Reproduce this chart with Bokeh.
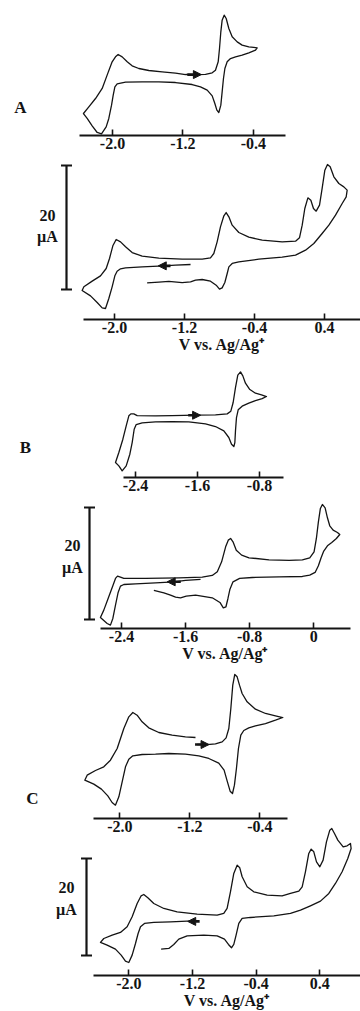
from bokeh.plotting import figure
from bokeh.models import (Range1d, LinearAxis, FixedTicker, CustomJSTickFormatter,
                          Arrow, NormalHead)
from bokeh.core.properties import value
from bokeh.embed import file_html
from bokeh.resources import INLINE

# ---------------- data (V vs. Ag/Ag+, current in uA) ----------------
a_top_v = [-1.170, -1.057, -0.943, -0.867, -0.830, -0.799, -0.784, -0.769, -0.754, -0.731,
           -0.708, -0.678, -0.640, -0.583, -0.527, -0.451, -0.356, -0.375, -0.451, -0.527,
           -0.602, -0.659, -0.697, -0.723, -0.739, -0.754, -0.769, -0.792, -0.814, -0.837,
           -0.867, -0.924, -1.000, -1.095, -1.284, -1.473, -1.663, -1.852, -1.947, -1.973,
           -1.992, -2.011, -2.042, -2.072, -2.125, -2.174, -2.231, -2.288, -2.330, -2.269,
           -2.193, -2.117, -2.061, -2.004, -1.966, -1.936, -1.890, -1.833, -1.777, -1.701,
           -1.587, -1.436, -1.284, -1.170]
a_top_i = [0.48, 0.45, 0.50, 0.75, 1.18, 2.53, 4.68, 7.37, 9.25, 10.05,
           9.52, 7.90, 6.56, 5.75, 5.22, 4.95, 4.78, 4.41, 3.98, 3.60,
           3.33, 3.06, 2.53, 1.45, -0.16, -2.31, -4.46, -5.65, -5.27, -4.19,
           -2.96, -2.04, -1.51, -1.13, -0.81, -0.70, -0.70, -0.75, -1.02, -1.51,
           -2.85, -4.46, -6.61, -7.96, -9.09, -8.87, -7.80, -6.61, -5.81, -4.73,
           -3.39, -1.77, 0.38, 2.53, 3.33, 3.71, 3.33, 2.53, 1.88, 1.45,
           1.13, 0.91, 0.70, 0.48]

a_bot_v = [-1.131, -1.303, -1.436, -1.684, -1.874, -1.931, -1.970, -1.996, -2.027, -2.065,
           -2.103, -2.141, -2.198, -2.274, -2.370, -2.350, -2.255, -2.160, -2.095, -2.057,
           -2.019, -1.981, -1.931, -1.874, -1.798, -1.684, -1.493, -1.227, -0.998, -0.903,
           -0.865, -0.827, -0.789, -0.750, -0.724, -0.693, -0.655, -0.579, -0.465, -0.312,
           -0.084, 0.069, 0.114, 0.145, 0.175, 0.210, 0.244, 0.274, 0.305, 0.343,
           0.373, 0.404, 0.434, 0.465, 0.507, 0.564, 0.621, 0.659, 0.648, 0.602,
           0.526, 0.450, 0.373, 0.278, 0.183, 0.069, -0.084, -0.350, -0.579, -0.655,
           -0.693, -0.712, -0.739, -0.770, -0.800, -0.838, -0.903, -0.998, -1.074, -1.131,
           -1.227, -1.379, -1.493, -1.627]
a_bot_i = [-0.32, -0.43, -0.54, -0.70, -0.86, -1.02, -1.40, -2.15, -3.92, -5.81,
           -7.42, -7.31, -6.45, -5.38, -4.52, -3.92, -3.01, -2.15, -0.97, 0.65,
           2.69, 3.71, 3.33, 2.53, 1.61, 1.02, 0.70, 0.54, 0.54, 0.75,
           1.45, 3.33, 5.75, 7.53, 8.06, 7.37, 6.02, 4.84, 4.09, 3.60,
           3.33, 3.44, 3.98, 6.02, 8.71, 10.43, 10.05, 8.71, 8.28, 9.25,
           11.94, 14.89, 15.81, 15.43, 13.82, 12.74, 12.20, 11.67, 10.59, 9.52,
           7.63, 6.02, 4.68, 3.06, 1.99, 1.18, 0.86, 0.54, 0.11, -0.16,
           -0.70, -1.77, -3.23, -4.09, -4.30, -3.66, -3.01, -2.74, -2.85, -3.12,
           -3.23, -3.06, -3.17, -3.28]

b_top_v = [-2.142, -1.927, -1.626, -1.368, -1.217, -1.170, -1.140, -1.110, -1.080, -1.045,
           -1.015, -0.981, -0.929, -0.852, -0.774, -0.710, -0.766, -0.852, -0.938, -1.024,
           -1.075, -1.097, -1.110, -1.118, -1.131, -1.161, -1.196, -1.260, -1.368, -1.497,
           -1.712, -1.927, -2.142, -2.314, -2.391, -2.417, -2.443, -2.473, -2.520, -2.572,
           -2.615, -2.658, -2.615, -2.563, -2.520, -2.486, -2.460, -2.422, -2.378, -2.142]
b_top_i = [0.60, 0.65, 0.71, 0.77, 0.95, 1.43, 2.98, 5.65, 7.86, 8.45,
           7.74, 6.43, 5.36, 4.64, 4.35, 4.05, 3.69, 3.33, 2.86, 2.32,
           1.67, 0.30, -2.08, -4.17, -4.88, -4.46, -3.27, -2.08, -1.31, -0.83,
           -0.48, -0.42, -0.48, -0.65, -0.95, -1.79, -4.17, -6.25, -8.33, -9.23,
           -8.33, -7.74, -5.95, -3.57, -1.19, 0.60, 0.95, 0.95, 0.65, 0.60]

b_bot_v = [-1.413, -1.600, -1.746, -1.975, -2.225, -2.371, -2.413, -2.442, -2.475, -2.508,
           -2.538, -2.579, -2.663, -2.621, -2.567, -2.508, -2.475, -2.450, -2.413, -2.371,
           -2.100, -1.683, -1.392, -1.267, -1.204, -1.150, -1.100, -1.067, -1.038, -1.008,
           -0.967, -0.900, -0.808, -0.558, -0.308, -0.142, -0.050, 0.004, 0.033, 0.058,
           0.083, 0.108, 0.142, 0.171, 0.200, 0.242, 0.296, 0.325, 0.283, 0.225,
           0.171, 0.125, 0.092, 0.058, 0.017, -0.050, -0.142, -0.433, -0.767, -0.925,
           -1.008, -1.046, -1.071, -1.096, -1.129, -1.171, -1.267, -1.475, -1.592, -1.663,
           -1.725, -1.788, -1.871, -1.996]
b_bot_i = [0.42, 0.24, 0.00, -0.18, -0.36, -0.48, -0.77, -1.90, -4.17, -6.55,
           -7.74, -7.44, -6.37, -5.06, -2.98, -0.71, 0.60, 1.01, 0.83, 0.60,
           0.60, 0.71, 0.83, 1.13, 1.79, 3.57, 6.25, 7.44, 7.74, 7.14,
           5.65, 4.76, 4.29, 3.93, 3.81, 3.93, 4.29, 5.36, 7.74, 10.71,
           13.10, 13.81, 13.21, 11.43, 10.00, 9.23, 8.81, 8.45, 7.74, 7.02,
           6.43, 5.48, 4.29, 2.86, 1.67, 1.19, 0.95, 0.89, 0.77, 0.60,
           0.00, -1.31, -2.98, -4.46, -4.64, -3.69, -2.86, -2.38, -2.56, -2.86,
           -2.74, -2.38, -1.96, -1.55]

c_top_v = [-1.116, -1.002, -0.907, -0.830, -0.785, -0.754, -0.731, -0.709, -0.686, -0.659,
           -0.632, -0.602, -0.545, -0.450, -0.335, -0.221, -0.137, -0.221, -0.335, -0.450,
           -0.526, -0.583, -0.617, -0.644, -0.667, -0.690, -0.712, -0.739, -0.770, -0.808,
           -0.869, -0.983, -1.097, -1.250, -1.440, -1.592, -1.745, -1.851, -1.897, -1.935,
           -1.973, -2.011, -2.050, -2.088, -2.137, -2.210, -2.297, -2.400, -2.373, -2.278,
           -2.183, -2.107, -2.030, -1.954, -1.897, -1.851, -1.802, -1.745, -1.669, -1.554,
           -1.402, -1.250, -1.135]
c_top_i = [0.82, 0.82, 0.96, 1.37, 2.20, 4.12, 8.25, 13.06, 15.26, 14.78,
           13.06, 11.34, 9.62, 8.11, 7.22, 6.74, 6.39, 5.84, 5.15, 4.67,
           4.26, 3.71, 2.75, 0.00, -4.12, -7.56, -9.28, -8.80, -6.87, -4.47,
           -3.02, -2.06, -1.51, -1.17, -1.03, -1.17, -1.24, -1.51, -2.20, -3.78,
           -6.87, -9.97, -11.68, -11.13, -9.76, -8.38, -7.35, -6.53, -5.50, -4.54,
           -3.78, -2.41, 0.00, 4.12, 6.53, 7.42, 6.87, 5.50, 4.26, 3.30,
           2.75, 2.41, 2.27]

c_bot_v = [-1.121, -1.267, -1.477, -1.686, -1.803, -1.853, -1.883, -1.916, -1.958, -2.000,
           -2.042, -2.096, -2.168, -2.272, -2.356, -2.314, -2.209, -2.105, -2.021, -1.958,
           -1.895, -1.845, -1.812, -1.761, -1.686, -1.560, -1.393, -1.142, -0.890, -0.807,
           -0.765, -0.723, -0.681, -0.639, -0.606, -0.576, -0.513, -0.430, -0.262, -0.074,
           0.031, 0.136, 0.178, 0.219, 0.261, 0.291, 0.324, 0.358, 0.400, 0.441,
           0.483, 0.525, 0.550, 0.584, 0.626, 0.693, 0.743, 0.785, 0.793, 0.751,
           0.680, 0.596, 0.513, 0.408, 0.282, 0.157, 0.031, -0.178, -0.472, -0.576,
           -0.618, -0.652, -0.681, -0.710, -0.748, -0.798, -0.890, -1.058, -1.267, -1.372,
           -1.435, -1.497, -1.594]
c_bot_i = [-0.82, -0.89, -1.03, -1.17, -1.37, -2.06, -3.44, -5.50, -7.90, -9.42,
           -9.14, -7.90, -6.67, -5.84, -5.29, -4.47, -3.78, -3.23, -2.06, 0.00,
           2.75, 4.33, 4.60, 3.92, 2.75, 1.72, 1.03, 0.55, 0.34, 0.69,
           1.72, 5.15, 8.93, 10.65, 10.10, 8.25, 6.19, 5.15, 4.47, 4.33,
           4.81, 5.29, 6.19, 9.28, 13.06, 13.95, 13.40, 11.34, 10.31, 11.68,
           15.46, 17.87, 18.21, 17.18, 15.81, 14.43, 14.64, 15.12, 14.09, 12.03,
           9.28, 6.87, 4.81, 3.23, 2.27, 1.37, 0.69, 0.21, -0.14, -0.34,
           -1.37, -3.78, -5.70, -6.39, -5.70, -4.60, -3.92, -3.78, -3.92, -4.60,
           -5.70, -6.53, -6.67]

# scan-direction arrows: (V start, V end, current)
arrows = {
    "a_top": (-1.15, -0.99, 0.47),
    "a_bot": (-1.36, -1.50, -0.54),
    "b_top": (-1.72, -1.56, 0.71),
    "b_bot": (-1.66, -1.83, 0.00),
    "c_top": (-1.14, -0.98, 0.82),
    "c_bot": (-1.11, -1.26, -0.95),
}

ticks_a_top = [-2.0, -1.2, -0.4]
ticks_a_bot = [-2.0, -1.2, -0.4, 0.4]
ticks_b_top = [-2.4, -1.6, -0.8]
ticks_b_bot = [-2.4, -1.6, -0.8, 0.0]
ticks_c_top = [-2.0, -1.2, -0.4]
ticks_c_bot = [-2.0, -1.2, -0.4, 0.4]

compound_labels = ["A", "B", "C"]
scale_bar_ua = 20
scale_bar_text = ["20", "\u00b5A"]
x_title = "V vs. Ag/Ag\u207a"

# ---------------- layout (page pixels; the page is drawn from its top-left corner) ----------------
W, H = 360, 1011
FL, FT = 0, 0

# name: (x px of ref V, ref V, px per V, y px of 0 uA, px per uA, axis y px, axis x0 px, axis x1 px)
panels = {
    "a_top": (112.0, -2.0, 88.0, 77.0, 6.2, 135, 79, 285),
    "a_bot": (114.0, -2.0, 87.5, 262.0, 6.2, 319, 83, 360),
    "b_top": (135.0, -2.4, 77.5, 418.7, 5.6, 477, 123, 283),
    "b_bot": (121.0, -2.4, 80.1, 581.3, 5.6, 628, 100, 350),
    "c_top": (119.3, -2.0, 87.5, 748.0, 4.85, 818, 93, 287),
    "c_bot": (128.3, -2.0, 79.6, 916.3, 4.85, 975, 93, 360),
}


def to_v(k, px):
    xr, vr, ppv = panels[k][:3]
    return vr + (px - xr) / ppv


def to_i(k, py):
    y0, ppu = panels[k][3:5]
    return (y0 - py) / ppu


FONT = "Liberation Serif"
INK = "#141414"

p = figure(width=W, height=H, output_backend="svg", toolbar_location=None,
           x_axis_location=None, y_axis_location=None,
           x_range=Range1d(FL, FL + W), y_range=Range1d(FT + H, FT),
           min_border=0)
p.grid.visible = False
p.outline_line_color = None
p.background_fill_color = "white"
p.border_fill_color = "white"

for k in panels:
    p.extra_x_ranges[k] = Range1d(to_v(k, FL), to_v(k, FL + W))
    p.extra_y_ranges[k] = Range1d(to_i(k, FT + H), to_i(k, FT))

curves = {
    "a_top": (a_top_v, a_top_i), "a_bot": (a_bot_v, a_bot_i),
    "b_top": (b_top_v, b_top_i), "b_bot": (b_bot_v, b_bot_i),
    "c_top": (c_top_v, c_top_i), "c_bot": (c_bot_v, c_bot_i),
}
ticks = {
    "a_top": ticks_a_top, "a_bot": ticks_a_bot,
    "b_top": ticks_b_top, "b_bot": ticks_b_bot,
    "c_top": ticks_c_top, "c_bot": ticks_c_bot,
}

fmt = CustomJSTickFormatter(code="return Math.abs(tick) < 1e-9 ? '0' : tick.toFixed(1);")

for k, (vs, cs) in curves.items():
    p.line(vs, cs, x_range_name=k, y_range_name=k, line_color=INK, line_width=1.3,
           line_join="round")
    x0, x1, yy = arrows[k]
    p.add_layout(Arrow(end=NormalHead(size=8, fill_color=INK, line_color=INK, line_width=1),
                       x_start=x0, y_start=yy, x_end=x1, y_end=yy,
                       line_color=INK, line_width=2.6,
                       x_range_name=k, y_range_name=k))
    ax_y, ax_x0, ax_x1 = panels[k][5:8]
    ax = LinearAxis(x_range_name=k, y_range_name=k,
                    fixed_location=to_i(k, ax_y),
                    bounds=(to_v(k, ax_x0), to_v(k, ax_x1)),
                    ticker=FixedTicker(ticks=ticks[k], minor_ticks=[]),
                    formatter=fmt,
                    major_tick_in=6, major_tick_out=0,
                    minor_tick_in=0, minor_tick_out=0,
                    axis_line_width=1.8, axis_line_color=INK,
                    major_tick_line_width=1.6, major_tick_line_color=INK,
                    major_label_text_font=FONT, major_label_text_font_style="bold",
                    major_label_text_font_size="16px", major_label_text_color=INK,
                    major_label_standoff=2)
    if k.endswith("bot"):
        ax.axis_label = x_title
        ax.axis_label_text_font = FONT
        ax.axis_label_text_font_style = "bold"
        ax.axis_label_text_font_size = "16px"
        ax.axis_label_text_color = INK
        ax.axis_label_standoff = 0
    p.add_layout(ax, "below")

# compound letters
letter_pos = {"a_top": (20, 107), "b_top": (25, 447), "c_top": (32, 798)}
for lab, (k, (lx, ly)) in zip(compound_labels, letter_pos.items()):
    p.text(x=[to_v(k, lx)], y=[to_i(k, ly)], text=[lab], x_range_name=k, y_range_name=k,
           text_font=value(FONT), text_font_style="bold", text_font_size="17px",
           text_color=INK, text_align="center", text_baseline="middle")

# 20 uA scale bars: (panel, bar x px, bar bottom y px, text x px, text y px for "20", "uA")
bars = [("a_bot", 66, 289, 47, 215, 236),
        ("b_bot", 89, 619, 72, 545, 567),
        ("c_bot", 86, 955, 66, 887, 909)]
for k, bx, by, tx, ty1, ty2 in bars:
    xv = to_v(k, bx)
    i0 = to_i(k, by)
    p.segment(x0=[xv], y0=[i0], x1=[xv], y1=[i0 + scale_bar_ua], x_range_name=k,
              y_range_name=k, line_color=INK, line_width=2.2)
    p.scatter(x=[xv, xv], y=[i0, i0 + scale_bar_ua], marker="dash", size=11,
              line_color=INK, line_width=2.2, x_range_name=k, y_range_name=k)
    p.text(x=[to_v(k, tx)] * 2, y=[to_i(k, ty1), to_i(k, ty2)], text=scale_bar_text,
           x_range_name=k, y_range_name=k,
           text_font=value(FONT), text_font_style="bold", text_font_size="16px",
           text_color=INK, text_align="center", text_baseline="middle")

open("out.html", "w").write(file_html(p, INLINE))
